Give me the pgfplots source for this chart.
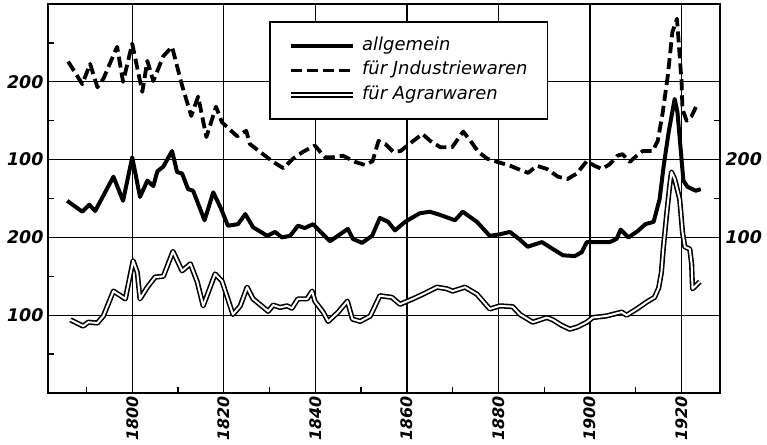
\documentclass[border=0pt]{standalone}
\usepackage{fontspec}
\setmainfont{DejaVu Sans}
\usepackage{pgfplots}
\pgfplotsset{compat=1.18}
\usepackage{pgfplotstable}

\pgfplotstableread{
year v
1786.0 226
1789.1 197
1790.8 223
1792.4 193
1793.7 204
1796.7 245
1798.0 200
1800.0 249
1802.2 187
1803.3 227
1804.6 201
1806.8 233
1808.7 245
1810.9 195
1812.9 156
1814.4 181
1816.2 129
1818.3 168
1819.6 148
1822.9 130
1824.9 137
1825.7 120
1827.9 110
1830.8 97
1833.0 89
1835.1 101
1837.3 110
1839.9 118
1842.1 103
1843.9 103
1846.0 105
1848.7 97
1850.9 93
1852.5 98
1853.8 124
1855.3 120
1857.0 110
1858.6 111
1860.1 118
1861.4 124
1863.4 133
1865.1 124
1867.3 116
1869.9 116
1872.3 136
1873.9 124
1875.6 110
1877.6 101
1879.8 97
1882.6 92
1885.5 85
1886.5 83
1888.4 92
1890.6 88
1893.0 78
1895.1 75
1897.1 82
1899.3 98
1901.0 92
1902.6 88
1904.3 94
1906.0 105
1907.1 107
1908.7 97
1910.2 105
1911.5 111
1913.7 111
1914.8 124
1915.9 161
1917.0 208
1918.0 264
1919.0 281
1920.0 200
1920.2 165
1921.1 150
1922.2 156
1923.5 172
}\industrie

\pgfplotstableread{
year v
1785.8 147
1789.1 133
1790.6 142
1791.9 134
1795.9 178
1798.0 147
1800.0 203
1801.7 152
1803.3 173
1804.6 166
1805.5 185
1806.8 191
1808.7 211
1809.8 184
1810.9 182
1812.2 162
1813.3 160
1815.8 122
1817.7 158
1819.4 137
1820.9 115
1823.1 117
1824.7 130
1826.4 113
1829.5 102
1831.2 107
1832.7 100
1834.5 102
1836.2 115
1837.7 112
1839.5 117
1841.0 108
1843.2 95
1845.4 104
1847.1 111
1848.2 98
1850.2 93
1852.4 102
1854.1 125
1855.9 120
1857.4 109
1859.6 120
1862.8 131
1865.0 133
1867.2 129
1870.5 122
1872.2 133
1875.3 120
1878.1 102
1880.3 104
1882.5 107
1884.5 98
1886.4 88
1889.5 94
1891.9 85
1894.1 77
1896.7 76
1898.2 81
1899.3 94
1901.0 94
1904.3 94
1905.8 98
1906.7 110
1908.4 100
1910.4 108
1912.1 117
1913.9 120
1915.2 149
1916.1 192
1917.2 236
1918.5 278
1919.1 261
1919.8 214
1920.4 173
1921.3 165
1923.1 160
1924.2 162
}\allgemein

\pgfplotstableread{
year v
1786.5 94
1789.3 86
1790.4 91
1792.4 90
1793.7 99
1795.9 131
1798.5 121
1800.2 170
1801.1 155
1801.7 121
1803.3 136
1805.0 149
1806.8 150
1808.9 182
1810.9 157
1812.7 166
1814.2 143
1815.5 112
1818.1 153
1819.6 144
1822.0 101
1823.6 112
1825.1 136
1826.4 121
1829.7 105
1830.8 113
1832.3 110
1833.8 112
1834.9 109
1836.2 121
1838.2 121
1839.3 131
1839.9 118
1841.7 104
1842.8 92
1845.0 104
1847.0 118
1848.1 95
1849.8 92
1852.0 99
1854.1 125
1856.7 123
1858.5 114
1861.3 121
1863.5 127
1866.6 136
1868.7 134
1870.0 131
1872.7 136
1875.3 127
1878.1 108
1880.3 112
1883.1 111
1884.7 101
1887.5 91
1890.6 97
1891.9 94
1893.8 87
1895.6 82
1897.3 85
1899.3 91
1900.6 97
1903.6 99
1906.9 104
1908.0 100
1910.2 108
1912.4 117
1914.1 123
1915.0 135
1915.6 155
1916.0 185
1916.7 227
1917.4 266
1917.8 284
1918.5 275
1919.6 249
1920.2 207
1920.7 188
1921.8 185
1922.2 166
1922.4 134
1924.0 143
}\agrar

\begin{document}
\begin{tikzpicture}
\useasboundingbox (-48bp,-52bp) rectangle (719bp,393bp);
\begin{axis}[
  at={(0,0)}, anchor=south west,
  scale only axis, width=672bp, height=389bp,
  xmin=1781.6, xmax=1928.4, ymin=0, ymax=500,
  xtick={1800,1820,1840,1860,1880,1900,1920},
  xticklabels={1800,1820,1840,1860,1880,1900,1920},
  minor xtick={1790,1810,1830,1850,1870,1890,1910},
  ytick={100,200,300,400},
  yticklabels={100,200,100,200},
  minor ytick={50,150,250,350,450},
  xtick pos=left, ytick pos=left,
  tick align=inside,
  major tick length=0pt, minor tick length=6bp,
  tick style={black, line width=1.3bp},
  grid=major,
  major grid style={black, line width=1.3bp},
  axis line style={black, line width=2bp},
  yticklabel style={font=\bfseries\itshape\fontsize{17.5}{17.5}\selectfont, xshift=-1bp},
  xticklabel style={rotate=90, anchor=east, font=\bfseries\itshape\fontsize{16}{16}\selectfont},
  legend style={at={(0.329,0.956)}, anchor=north west, draw=black, line width=1.8bp,
    fill=white, inner xsep=18bp, inner ysep=14bp, row sep=4.5bp, column sep=5bp,
    font=\itshape\fontsize{18}{18}\selectfont,
    nodes={inner sep=2bp, text height=12bp, text depth=4bp}},
  legend cell align=left,
  legend image code/.code={\draw[#1] (0bp,0bp) -- (62bp,0bp);},
]
\addplot[black, line width=4bp, line join=round] table[x=year, y expr=\thisrow{v}+100] {\allgemein};
\addlegendentry{allgemein}
\addplot[black, line width=3.8bp, dash pattern=on 11bp off 5bp, line join=round] table[x=year, y expr=\thisrow{v}+200] {\industrie};
\addlegendentry{für Jndustriewaren}
\addplot[black, line width=1.6bp, double=white, double distance=2bp, line join=round] table[x=year, y=v] {\agrar};
\addlegendentry{für Agrarwaren}
\end{axis}
\begin{axis}[
  at={(0,0)}, anchor=south west,
  scale only axis, width=672bp, height=389bp,
  xmin=1781.6, xmax=1928.4, ymin=0, ymax=500,
  axis x line=none, axis y line*=right,
  ytick={200,300}, yticklabels={100,200},
  minor ytick={250,350},
  tick align=inside,
  major tick length=0pt, minor tick length=6bp,
  tick style={black, line width=1.3bp},
  axis line style={black, line width=2bp},
  yticklabel style={font=\bfseries\itshape\fontsize{17.5}{17.5}\selectfont, xshift=2bp},
]
\end{axis}
\end{tikzpicture}
\end{document}
